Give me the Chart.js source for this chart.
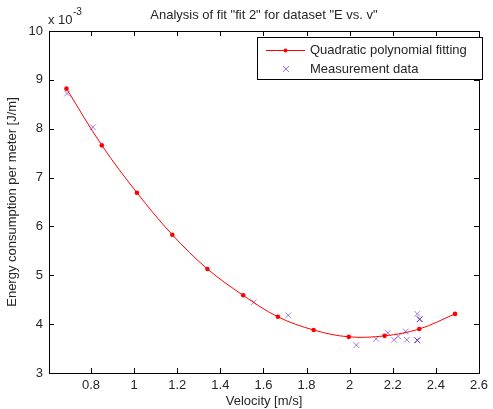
<!DOCTYPE html>
<html>
<head>
<meta charset="utf-8">
<script src="https://cdn.jsdelivr.net/npm/chart.js@4"></script>
<style>
  html, body { margin: 0; padding: 0; background: #fff; }
  #wrap { width: 493px; height: 409px; }
</style>
</head>
<body>
<div id="wrap"><canvas id="chart" width="493" height="409"></canvas></div>
<script>
// Werte in Einheiten von 10^-3 J/m
const fitVelocity = [0.686, 0.850, 1.013, 1.177, 1.340, 1.506, 1.667, 1.833, 1.996, 2.162, 2.323, 2.489];
const fitEnergy   = [8.82, 7.66, 6.69, 5.83, 5.13, 4.59, 4.15, 3.88, 3.74, 3.76, 3.90, 4.21];

// Messpunkte (mehrfache Punkte an gleicher Stelle -> dunkler)
const measVelocity = [0.689, 0.809, 1.555, 1.715, 2.031, 2.123, 2.177, 2.206, 2.225, 2.260, 2.265, 2.314,
                      2.325, 2.325, 2.325, 2.314, 2.314, 2.314];
const measEnergy   = [8.72, 8.03, 4.45, 4.18, 3.57, 3.70, 3.82, 3.68, 3.75, 3.85, 3.68, 4.21,
                      4.10, 4.10, 4.10, 3.67, 3.67, 3.67];

const xTicks = [0.8, 1, 1.2, 1.4, 1.6, 1.8, 2, 2.2, 2.4, 2.6];
const yTicks = [3, 4, 5, 6, 7, 8, 9, 10];

const titleText = 'Analysis of fit "fit 2" for dataset "E vs. v"';
const xLabel = "Velocity [m/s]";
const yLabel = "Energy consumption per meter [J/m]";
const legendLabels = ["Quadratic polynomial fitting", "Measurement data"];

const FONT = "Liberation Sans, Arial, sans-serif";
const TXT = "#262626";
const CROSS = "rgba(100,40,200,0.6)";

// Rahmen, Ticks nach innen, Titel, Legende
const matlabLook = {
    id: "matlabLook",
    afterDraw(chart) {
        const ctx = chart.ctx;
        const a = chart.chartArea;
        const xs = chart.scales.x, ys = chart.scales.y;
        ctx.save();
        ctx.strokeStyle = "#000";
        ctx.lineWidth = 1;
        ctx.strokeRect(Math.round(a.left) + 0.5, Math.round(a.top) + 0.5,
                       Math.round(a.right - a.left), Math.round(a.bottom - a.top));
        ctx.beginPath();
        xTicks.forEach(v => {
            const px = Math.round(xs.getPixelForValue(v)) + 0.5;
            ctx.moveTo(px, a.bottom); ctx.lineTo(px, a.bottom - 5);
            ctx.moveTo(px, a.top); ctx.lineTo(px, a.top + 5);
        });
        yTicks.forEach(v => {
            const py = Math.round(ys.getPixelForValue(v)) + 0.5;
            ctx.moveTo(a.left, py); ctx.lineTo(a.left + 5, py);
            ctx.moveTo(a.right, py); ctx.lineTo(a.right - 5, py);
        });
        ctx.stroke();

        ctx.fillStyle = TXT;
        ctx.font = "13px " + FONT;
        ctx.textAlign = "center";
        ctx.textBaseline = "middle";
        ctx.fillText(titleText, (a.left + a.right) / 2, 15);
        ctx.fillText(xLabel, (a.left + a.right) / 2, 401);

        ctx.save();
        ctx.translate(12, (a.top + a.bottom) / 2);
        ctx.rotate(-Math.PI / 2);
        ctx.fillText(yLabel, 0, 0);
        ctx.restore();

        // Exponent
        ctx.textAlign = "left";
        ctx.fillText("x 10", 48, 20);
        ctx.font = "10px " + FONT;
        ctx.fillText("-3", 73, 12);

        // Legende
        const lx = 257, ly = 37, lw = 225, lh = 42;
        ctx.fillStyle = "#fff";
        ctx.fillRect(lx, ly, lw, lh);
        ctx.strokeStyle = "#000";
        ctx.strokeRect(lx + 0.5, ly + 0.5, lw, lh);
        ctx.strokeStyle = "#ff0000";
        ctx.beginPath();
        ctx.moveTo(266, 50.5); ctx.lineTo(305, 50.5);
        ctx.stroke();
        ctx.fillStyle = "#ff0000";
        ctx.beginPath();
        ctx.arc(285.5, 50.5, 2, 0, Math.PI * 2);
        ctx.fill();
        ctx.strokeStyle = "rgb(160,110,225)";
        ctx.beginPath();
        ctx.moveTo(283, 66); ctx.lineTo(289, 72);
        ctx.moveTo(289, 66); ctx.lineTo(283, 72);
        ctx.stroke();
        ctx.fillStyle = TXT;
        ctx.font = "13px " + FONT;
        ctx.fillText(legendLabels[0], 310, 50);
        ctx.fillText(legendLabels[1], 310, 69);
        ctx.restore();
    }
};

new Chart(document.getElementById("chart").getContext("2d"), {
    type: "scatter",
    data: {
        datasets: [{
            label: legendLabels[0],
            data: fitVelocity.map((v, i) => ({ x: v, y: fitEnergy[i] })),
            showLine: true,
            borderColor: "#ff0000",
            backgroundColor: "#ff0000",
            borderWidth: 1,
            tension: 0.35,
            pointRadius: 2.3,
            pointBorderWidth: 0
        }, {
            label: legendLabels[1],
            data: measVelocity.map((v, i) => ({ x: v, y: measEnergy[i] })),
            pointStyle: "crossRot",
            pointRadius: 4,
            borderColor: CROSS,
            backgroundColor: CROSS,
            pointBorderWidth: 1
        }]
    },
    options: {
        responsive: false,
        animation: false,
        layout: { padding: { left: 0, top: 31, right: 10, bottom: 0 } },
        plugins: { legend: { display: false }, tooltip: { enabled: false }, title: { display: false } },
        scales: {
            x: {
                type: "linear",
                min: 0.605,
                max: 2.6,
                afterFit: s => { s.height = 36; },
                afterBuildTicks: s => { s.ticks = xTicks.map(v => ({ value: v })); },
                grid: { display: false, drawTicks: false },
                border: { display: false },
                ticks: { color: TXT, font: { family: FONT, size: 13 }, padding: 5, maxRotation: 0,
                         autoSkip: false, callback: v => String(v) }
            },
            y: {
                min: 3,
                max: 10,
                afterFit: s => { s.width = 49; },
                afterBuildTicks: s => { s.ticks = yTicks.map(v => ({ value: v })); },
                grid: { display: false, drawTicks: false },
                border: { display: false },
                ticks: { color: TXT, font: { family: FONT, size: 13 }, padding: 6, autoSkip: false }
            }
        }
    },
    plugins: [matlabLook]
});
</script>
</body>
</html>
